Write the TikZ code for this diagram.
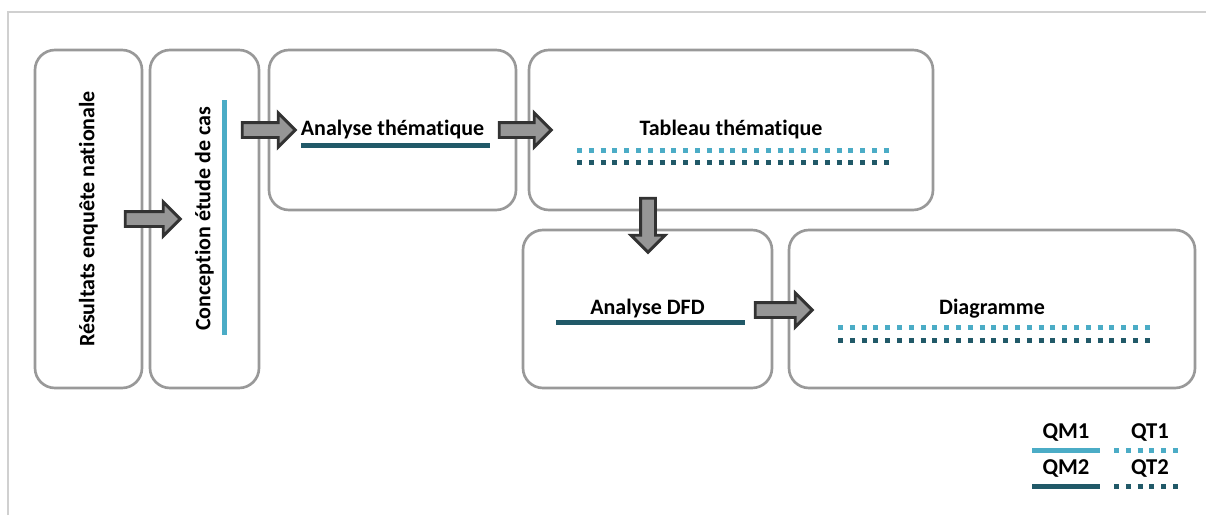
\documentclass[tikz,border=0pt]{standalone}
\usepackage{fontspec}
\setmainfont{Carlito}[Ligatures=NoCommon]
\usetikzlibrary{shapes.arrows}

\definecolor{boxgray}{HTML}{999999}
\definecolor{framegray}{HTML}{D0D0D0}
\definecolor{arrowfill}{HTML}{969696}
\definecolor{arrowedge}{HTML}{333333}
\definecolor{qmlight}{HTML}{4BACC6}
\definecolor{qmdark}{HTML}{215968}

\newcommand{\pxu}{0.75pt}

\tikzset{
  stage/.style={draw=boxgray, line width=2pt, rounded corners=15pt,
    fill=white, inner sep=0pt, font=\fontsize{16.5}{18}\selectfont\bfseries},
  vlabel/.style={rotate=90, inner sep=0pt, font=\fontsize{16.5}{18}\selectfont\bfseries},
  flow/.style={single arrow, draw=arrowedge, fill=arrowfill, line width=2.2pt,
    minimum width=31*\pxu, single arrow head extend=9.5*\pxu,
    inner xsep=0pt, inner ysep=6*\pxu},
  qmone/.style={qmlight, line width=5*\pxu},
  qmtwo/.style={qmdark, line width=5*\pxu},
  qtone/.style={qmlight, line width=5*\pxu, dash pattern=on 5*\pxu off 6.8*\pxu},
  qttwo/.style={qmdark, line width=5*\pxu, dash pattern=on 5*\pxu off 6.8*\pxu},
  legend/.style={inner sep=0pt, font=\fontsize{17}{19}\selectfont\bfseries}
}

\begin{document}
\begin{tikzpicture}[x=0.75pt, y=-0.75pt]

\useasboundingbox (0,0) rectangle (1206,515);

% Frame
\draw[framegray, line width=1.5pt] (8,515) -- (8,12) -- (1206,12);

% Stages
\node[stage, minimum width=107*\pxu, minimum height=338*\pxu] (results) at (88.5,219) {};
\node[stage, minimum width=109*\pxu, minimum height=338*\pxu] (design) at (204.5,219) {};
\node[stage, minimum width=247*\pxu, minimum height=160*\pxu] (thematic) at (392.5,130) {Analyse thématique};
\node[stage, minimum width=404*\pxu, minimum height=160*\pxu] (table) at (731,130) {Tableau thématique};
\node[stage, minimum width=249*\pxu, minimum height=158*\pxu] (dfd) at (647.5,309) {Analyse DFD};
\node[stage, minimum width=406*\pxu, minimum height=158*\pxu] (diagram) at (992,309) {Diagramme};

% Vertical labels
\node[vlabel] (resultslabel) at (results.center) {Résultats enquête nationale};
\node[vlabel] (designlabel) at (design.center) {Conception étude de cas};

% Method lines
\draw[qmone] (224,100) -- (224,335);
\draw[qmtwo] (301,145) -- (490,145);
\draw[qtone] (577,150) -- (890,150);
\draw[qttwo] (577,162) -- (890,162);
\draw[qmtwo] (556,322) -- (745,322);
\draw[qtone] (838,327) -- (1152,327);
\draw[qttwo] (838,340) -- (1152,340);

% Flow arrows
\node[flow, minimum height=55*\pxu] (flowa) at (149,219) {};
\node[flow, minimum height=53*\pxu] (flowb) at (265,130) {};
\node[flow, minimum height=52*\pxu] (flowc) at (521.5,130) {};
\node[flow, minimum height=54*\pxu, rotate=-90] (flowd) at (648,221.5) {};
\node[flow, minimum height=57*\pxu] (flowe) at (780,310) {};

% Legend
\node[legend] (qmonelabel) at (1066,432) {QM1};
\node[legend] (qtonelabel) at (1150,432) {QT1};
\node[legend] (qmtwolabel) at (1066,468) {QM2};
\node[legend] (qttwolabel) at (1150,468) {QT2};
\draw[qmone] (1032,450) -- (1100,450);
\draw[qtone] (1114,450) -- (1180,450);
\draw[qmtwo] (1032,486) -- (1100,486);
\draw[qttwo] (1114,486) -- (1180,486);

\end{tikzpicture}
\end{document}
